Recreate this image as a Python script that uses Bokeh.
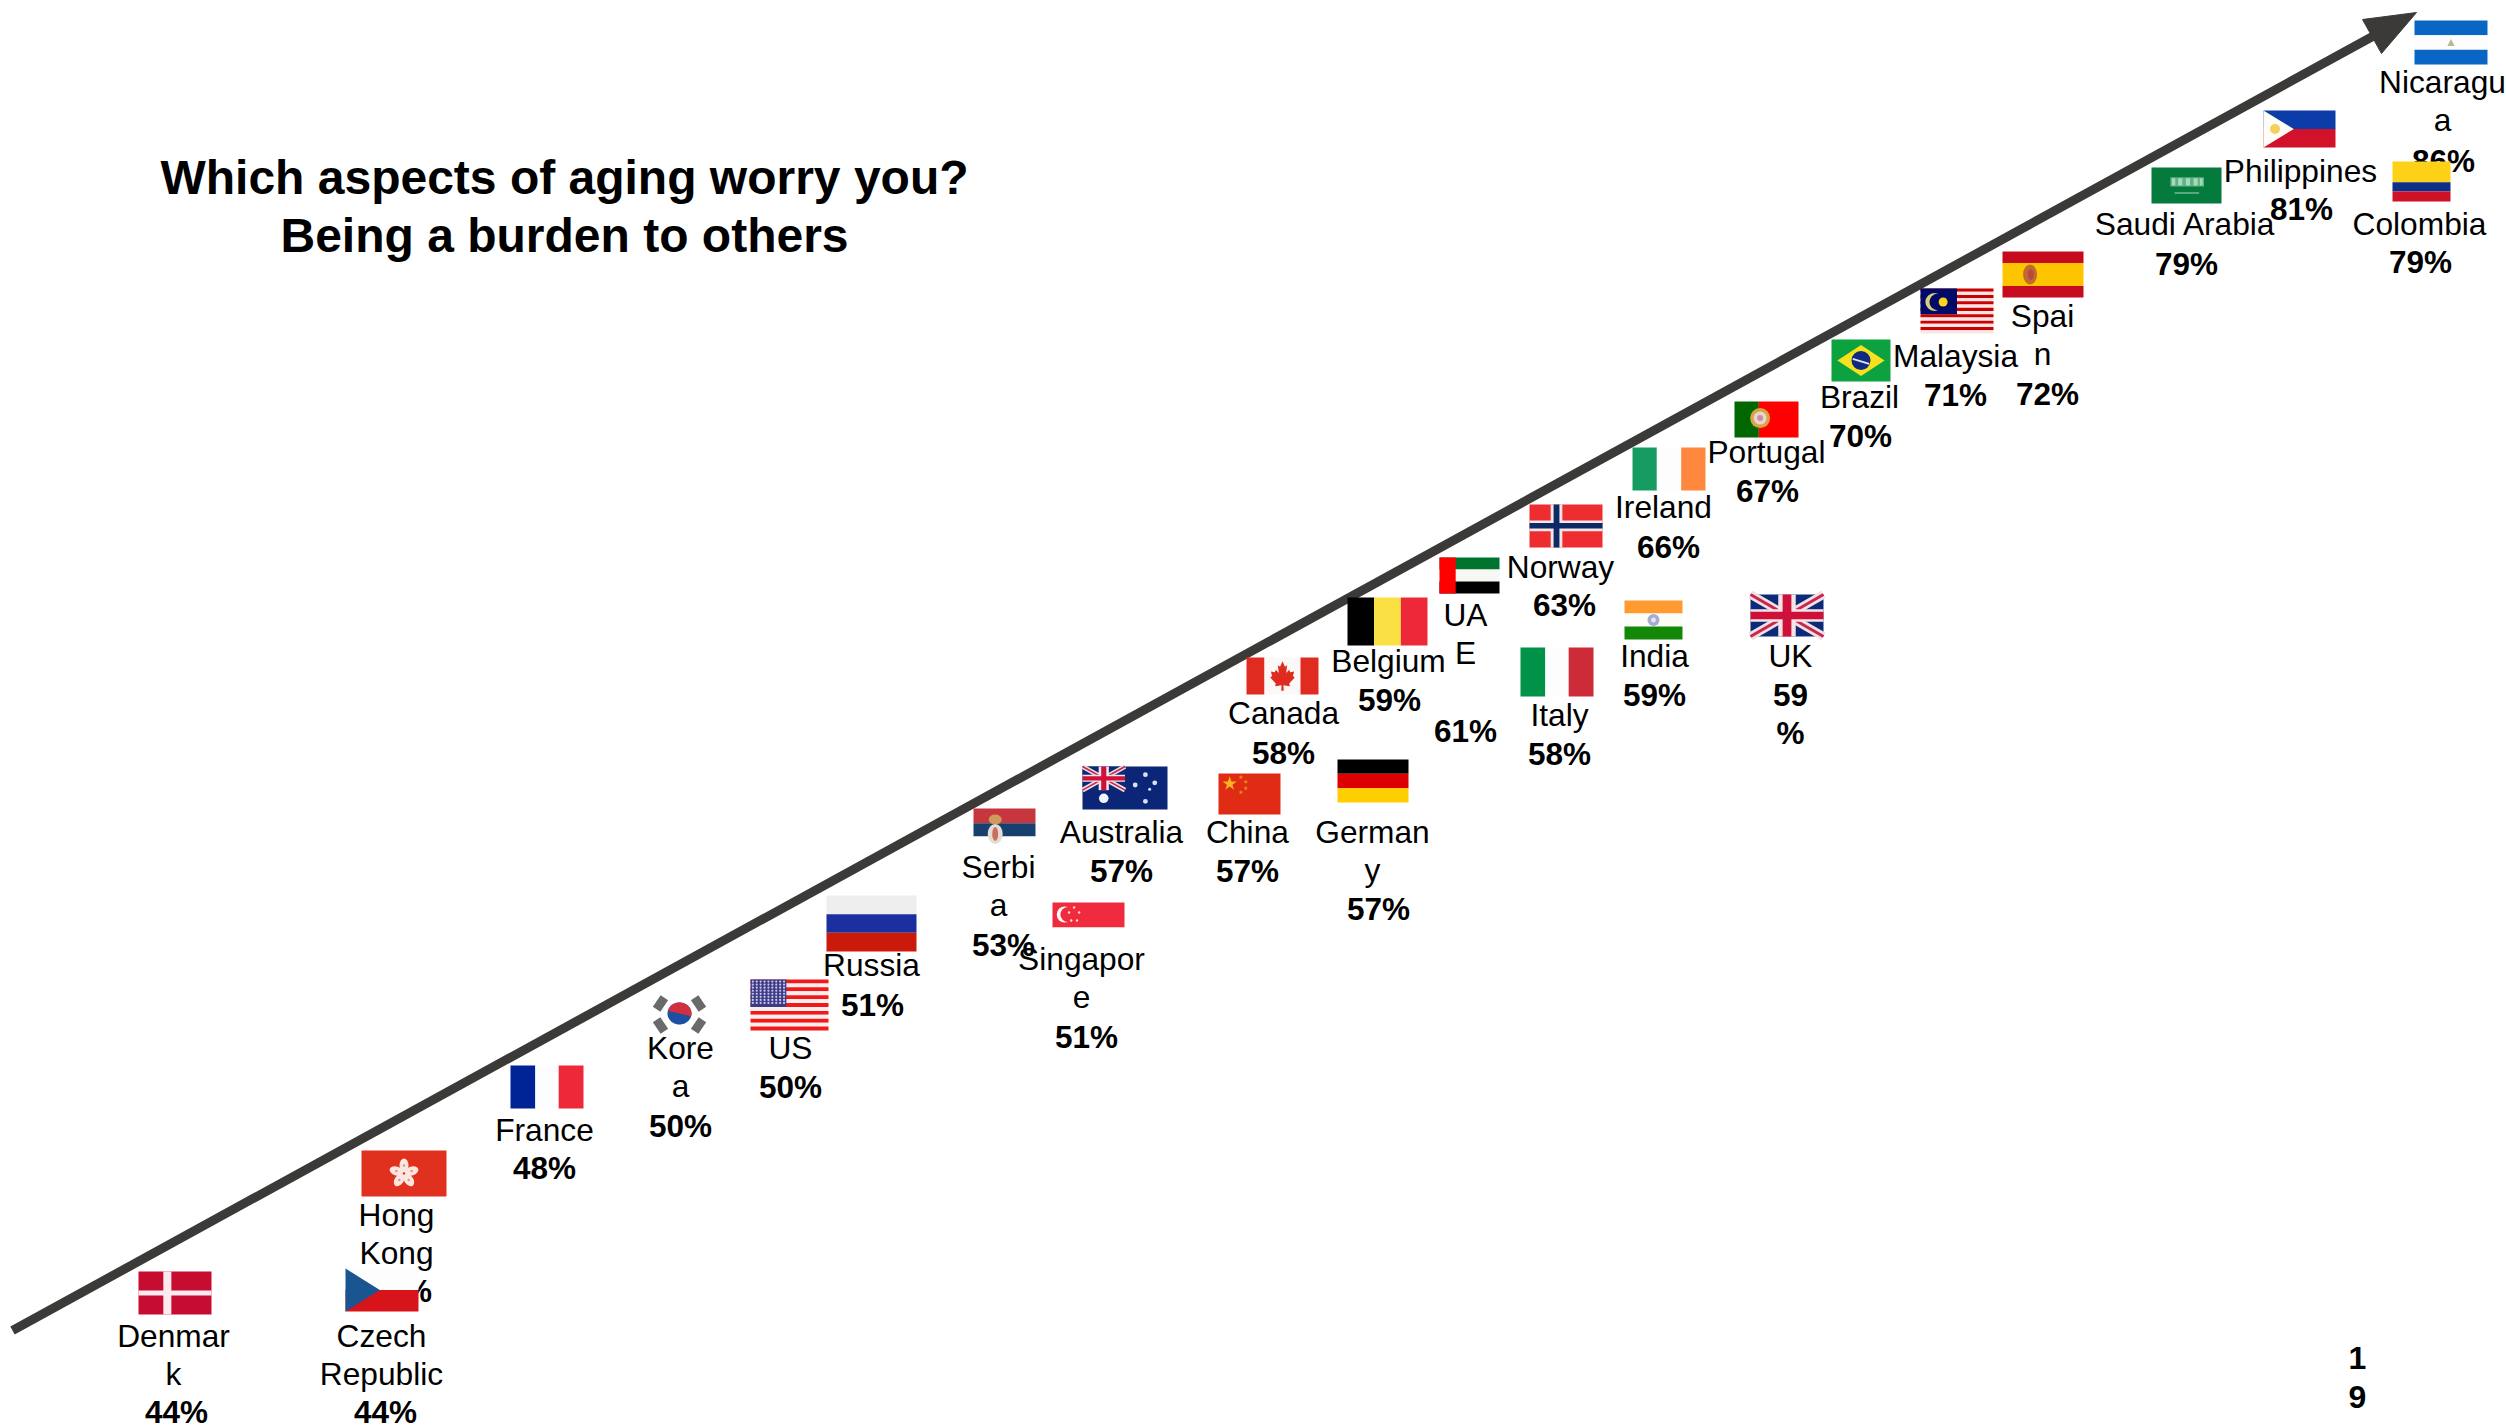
import numpy as np
from bokeh.core.properties import value as fixed
from bokeh.embed import file_html
from bokeh.models import ColumnDataSource, Range1d
from bokeh.plotting import figure
from bokeh.resources import INLINE

# ---- survey answers -------------------------------------------------------
countries = ["Denmark", "Czech Republic", "Hong Kong", "France", "Korea", "US", "Russia",
             "Singapore", "Serbia", "Australia", "China", "Germany", "Canada", "Italy",
             "Belgium", "India", "UK", "UAE", "Norway", "Ireland", "Portugal", "Brazil",
             "Malaysia", "Spain", "Saudi Arabia", "Colombia", "Philippines", "Nicaragua"]
shares = [44, 44, 45, 48, 50, 50, 51, 51, 53, 57, 57, 57, 58, 58,
          59, 59, 59, 61, 63, 66, 67, 70, 71, 72, 79, 79, 81, 86]

# Names that the narrow text boxes break over several lines
name_breaks = {"Denmark": ["Denmar", "k"], "Czech Republic": ["Czech", "Republic"],
               "Hong Kong": ["Hong", "Kong"], "Korea": ["Kore", "a"],
               "Singapore": ["Singapor", "e"], "Serbia": ["Serbi", "a"],
               "Germany": ["German", "y"], "UAE": ["UA", "E"], "Spain": ["Spai", "n"],
               "Nicaragua": ["Nicaragu", "a"]}
share_breaks = {"UK": ["59", "%"]}

title_lines = ["Which aspects of aging worry you?", "Being a burden to others"]
page_digits = ["1", "9"]

# ---- slide layout, in pixels from the top-left corner ---------------------
flag_left = [138, 345, 361, 510, 645, 750, 826, 1052, 973, 1082, 1218, 1337, 1246, 1520,
             1347, 1624, 1750, 1439, 1529, 1632, 1734, 1831, 1920, 2002, 2151, 2392, 2263, 2414]
flag_top = [1271, 1268, 1150, 1065, 993, 979, 895, 902, 808, 766, 773, 759, 657, 647,
            597, 600, 594, 557, 504, 447, 401, 339, 288, 251, 167, 161, 110, 20]
flag_right = [211, 418, 446, 583, 713, 828, 916, 1124, 1035, 1167, 1280, 1408, 1318, 1593,
              1427, 1682, 1823, 1499, 1602, 1705, 1798, 1890, 1993, 2083, 2221, 2450, 2335, 2487]
flag_bottom = [1314, 1311, 1196, 1108, 1033, 1030, 951, 952, 849, 809, 814, 802, 694, 696,
               645, 639, 636, 593, 547, 490, 437, 381, 333, 297, 203, 201, 147, 64]
name_x = [173, 381, 396, 544, 680, 790, 871, 1081, 998, 1121, 1247, 1372, 1283, 1559,
          1388, 1654, 1790, 1465, 1560, 1663, 1766, 1859, 1955, 2042, 2185, 2419, 2300, 2442]
name_y = [1347, 1347, 1226, 1141, 1059, 1059, 976, 970, 878, 843, 843, 843, 724, 726,
          672, 667, 667, 626, 578, 518, 463, 408, 367, 327, 235, 235, 182, 93]
share_x = [176, 385, 400, 544, 680, 790, 872, 1086, 1003, 1121, 1247, 1378, 1283, 1559,
           1389, 1654, 1790, 1465, 1564, 1668, 1767, 1860, 1955, 2047, 2186, 2420, 2301, 2443]
share_y = [1423, 1423, 1302, 1179, 1137, 1098, 1016, 1048, 956, 882, 882, 920, 764, 765,
           711, 706, 706, 742, 616, 558, 502, 447, 406, 405, 275, 273, 220, 172]

LINE_STEP = 38.6
LABEL_FONT = fixed("Liberation Sans")
ARROW_COLOR = "#3b3a38"
BASELINE_SHIFT = -0.37  # lifts the SVG text onto its baseline, in font sizes

p = figure(width=2506, height=1425, output_backend="svg", toolbar_location=None,
           x_range=Range1d(0, 2506), y_range=Range1d(1425, 0), min_border=0,
           x_axis_type=None, y_axis_type=None, outline_line_color=None,
           background_fill_color="white", border_fill_color="white")
p.grid.visible = False


def add_text(xs, ys, texts, size, style):
    src = ColumnDataSource(dict(x=xs, y=ys, t=texts))
    p.text("x", "y", text="t", source=src, text_font=LABEL_FONT, text_font_size=f"{size}px",
           text_font_style=style, text_align="center", text_baseline="alphabetic",
           text_color="black", y_offset=BASELINE_SHIFT * size)


# ---- texts sit beneath the flags, which overlap a few of them -------------
nx, ny, nt, vx, vy, vt = [], [], [], [], [], []
for i, country in enumerate(countries):
    for k, line in enumerate(name_breaks.get(country, [country])):
        nx.append(name_x[i]); ny.append(name_y[i] + k * LINE_STEP); nt.append(line)
    for k, line in enumerate(share_breaks.get(country, [f"{shares[i]}%"])):
        vx.append(share_x[i]); vy.append(share_y[i] + k * LINE_STEP); vt.append(line)
add_text(nx, ny, nt, 31.7, "normal")
add_text(vx, vy, vt, 31.5, "bold")
add_text([564, 564], [195, 253], title_lines, 48, "bold")
add_text([2357, 2357], [1369, 1408], page_digits, 32, "bold")

# ---- rising arrow ---------------------------------------------------------
p.line([12, 2372], [1330, 36], line_color=ARROW_COLOR, line_width=9, line_cap="butt")
p.patch([2416, 2362, 2381], [12, 19, 53], fill_color=ARROW_COLOR, line_color=ARROW_COLOR)


# ---- flags ----------------------------------------------------------------
class Flag:
    """Draws shapes inside a flag box, given in fractions of its width and height."""

    def __init__(self, left, top, right, bottom):
        self.l, self.t, self.w, self.h = left, top, right - left, bottom - top

    def X(self, u):
        return self.l + self.w * u

    def Y(self, v):
        return self.t + self.h * v

    def band(self, u0, v0, u1, v1, color):
        p.quad(left=self.X(u0), right=self.X(u1), top=self.Y(v0), bottom=self.Y(v1),
               fill_color=color, line_color=None)

    def rows(self, colors, stops=None):
        stops = stops or np.linspace(0, 1, len(colors) + 1)
        for c, a, b in zip(colors, stops[:-1], stops[1:]):
            self.band(0, a, 1, b, c)

    def cols(self, colors, stops=None):
        stops = stops or np.linspace(0, 1, len(colors) + 1)
        for c, a, b in zip(colors, stops[:-1], stops[1:]):
            self.band(a, 0, b, 1, c)

    def poly(self, pts, color):
        p.patch([self.X(a) for a, _ in pts], [self.Y(b) for _, b in pts],
                fill_color=color, line_color=None)

    def dot(self, u, v, radius, color, alpha=1.0):
        p.circle(x=self.X(u), y=self.Y(v), radius=radius, fill_color=color,
                 fill_alpha=alpha, line_color=None)

    def oval(self, u, v, w, h, color, angle=0.0):
        p.ellipse(x=self.X(u), y=self.Y(v), width=w, height=h, angle=angle,
                  fill_color=color, line_color=None)

    def star(self, u, v, size, color):
        p.scatter(x=[self.X(u)], y=[self.Y(v)], marker="star", size=size,
                  fill_color=color, line_color=None)

    def tilted(self, u, v, w, h, angle, color):
        p.rect(x=self.X(u), y=self.Y(v), width=w, height=h, angle=angle,
               fill_color=color, line_color=None)

    def sub(self, u0, v0, u1, v1):
        return Flag(self.X(u0), self.Y(v0), self.X(u1), self.Y(v1))


def union_jack(f):
    f.band(0, 0, 1, 1, "#0b2a78")
    for a, b, c, d in ((0, 0, 1, 1), (0, 1, 1, 0)):
        p.line([f.X(a), f.X(c)], [f.Y(b), f.Y(d)], line_color="#f0dfe4",
               line_width=f.h * 0.2)
        p.line([f.X(a), f.X(c)], [f.Y(b), f.Y(d)], line_color="#c8264a",
               line_width=f.h * 0.07)
    f.band(0.38, 0, 0.62, 1, "#f2e4e8")
    f.band(0, 0.35, 1, 0.65, "#f2e4e8")
    f.band(0.44, 0, 0.56, 1, "#cf1038")
    f.band(0, 0.41, 1, 0.59, "#cf1038")


def denmark(f):
    f.band(0, 0, 1, 1, "#c60c30")
    f.band(0.34, 0, 0.45, 1, "#fbeaf0")
    f.band(0, 0.44, 1, 0.56, "#fbeaf0")


def czech(f):
    f.rows(["#fdfdfd", "#d7141a"])
    f.poly([(0, 0), (0.47, 0.5), (0, 1)], "#1a5591")


def hong_kong(f):
    f.band(0, 0, 1, 1, "#e0301e")
    for k in range(5):
        a = np.pi / 2 + k * 2 * np.pi / 5
        f.oval(0.5 + 8 * np.cos(a) / f.w, 0.5 - 8 * np.sin(a) / f.h, 14, 9, "#fbe6e0", a)
        f.dot(0.5 + 8 * np.cos(a) / f.w, 0.5 - 8 * np.sin(a) / f.h, 1.2, "#e8907c")


def france(f):
    f.cols(["#002395", "#fdfdff", "#ed2939"], [0, 0.34, 0.66, 1])


def korea(f):
    cx, cy = f.X(0.5), f.Y(0.5)
    t = np.linspace(0, 2 * np.pi, 60)
    p.patch(cx + 12 * np.cos(t), cy + 11 * np.sin(t), fill_color="#1d4fa3", line_color=None)
    t = np.linspace(np.radians(195), np.radians(375), 40)
    p.patch(cx + 12 * np.cos(t), cy + 11 * np.sin(t), fill_color="#d2303e", line_color=None)
    for u, v, a in ((0.22, 0.25, 0.98), (0.78, 0.25, -0.98), (0.22, 0.8, -0.98), (0.78, 0.8, 0.98)):
        f.tilted(u, v, 14, 9, a, "#6a6a6a")


def usa(f):
    f.rows(["#f01a1a" if k % 2 == 0 else "#fdeeee" for k in range(13)])
    f.band(0, 0, 0.46, 7 / 13, "#3d3b86")
    us = [0.03 + 0.05 * k for k in range(9)]
    vs = [0.04 + 0.06 * k for k in range(8)]
    p.scatter(x=[f.X(u) for u in us for _ in vs], y=[f.Y(v) for _ in us for v in vs],
              marker="circle", size=2.2, fill_color="#c9c8e8", line_color=None)


def russia(f):
    f.rows(["#eeeeee", "#1c2f9e", "#cc1a0a"])


def singapore(f):
    f.rows(["#ef2b3d", "#ffffff"])
    f.dot(0.17, 0.24, 8, "#ffffff")
    f.dot(0.215, 0.24, 7.6, "#ef2b3d")
    for u, v in ((0.3, 0.1), (0.37, 0.2), (0.34, 0.36), (0.26, 0.36), (0.23, 0.2)):
        f.dot(u, v, 1.2, "#fbdcdc")


def serbia(f):
    f.rows(["#c6363c", "#17406f", "#ffffff"], [0, 0.36, 0.68, 1])
    f.oval(0.35, 0.27, 13, 10, "#cf9a5a")
    f.oval(0.35, 0.62, 15, 20, "#e6dcd6")
    f.oval(0.35, 0.62, 6, 14, "#c9705e")


def australia(f):
    f.band(0, 0, 1, 1, "#0b2577")
    union_jack(f.sub(0, 0, 0.5, 0.55))
    f.dot(0.25, 0.74, 4.8, "#f0f4ff")
    for u, v, r in ((0.74, 0.19, 2.4), (0.62, 0.43, 2.4), (0.85, 0.38, 2.4), (0.79, 0.53, 1.5), (0.74, 0.81, 2.4)):
        f.dot(u, v, r, "#d9e2f8")


def china(f):
    f.band(0, 0, 1, 1, "#e02c14")
    f.star(0.18, 0.25, 15, "#f7b51e")
    for u, v in ((0.36, 0.09), (0.44, 0.2), (0.44, 0.36), (0.36, 0.46)):
        f.star(u, v, 5, "#ee8a1c")


def germany(f):
    f.rows(["#000000", "#dd0000", "#ffce00"])


def canada(f):
    f.cols(["#e02b20", "#fbf8f7", "#e02b20"], [0, 0.25, 0.75, 1])
    leaf = [(0, -1), (0.2, -0.62), (0.38, -0.72), (0.3, -0.2), (0.55, -0.42), (0.62, -0.25),
            (0.95, -0.3), (0.85, 0), (1, 0.1), (0.55, 0.5), (0.6, 0.7), (0.08, 0.62), (0.1, 1),
            (-0.1, 1), (-0.08, 0.62), (-0.6, 0.7), (-0.55, 0.5), (-1, 0.1), (-0.85, 0),
            (-0.95, -0.3), (-0.62, -0.25), (-0.55, -0.42), (-0.3, -0.2), (-0.38, -0.72), (-0.2, -0.62)]
    f.poly([(0.5 + a * 0.17, 0.5 + b * 0.4) for a, b in leaf], "#e02b20")


def italy(f):
    f.cols(["#009246", "#fdfdfd", "#cd2b37"], [0, 0.34, 0.66, 1])


def belgium(f):
    f.cols(["#000000", "#fae042", "#ed2939"])


def india(f):
    f.rows(["#ff9a30", "#fdfdf8", "#138808"])
    f.dot(0.5, 0.5, 6, "#a8aad4")
    f.dot(0.5, 0.5, 2.4, "#e8e8f4")


def uk(f):
    union_jack(f)


def uae(f):
    f.rows(["#00732f", "#f6f8f4", "#000000"])
    f.band(0, 0, 0.27, 1, "#ff0000")


def norway(f):
    f.band(0, 0, 1, 1, "#ee2d30")
    f.band(0.29, 0, 0.45, 1, "#f4e6e6")
    f.band(0, 0.37, 1, 0.62, "#f4e6e6")
    f.band(0.33, 0, 0.41, 1, "#0e2a66")
    f.band(0, 0.43, 1, 0.56, "#0e2a66")


def ireland(f):
    f.cols(["#169b62", "#fdfdfd", "#ff883e"])


def portugal(f):
    f.band(0, 0, 0.38, 1, "#006600")
    f.band(0.38, 0, 1, 1, "#ff0000")
    f.dot(0.4, 0.46, 10, "#d9a441")
    f.dot(0.4, 0.46, 6.5, "#e8d4d4")
    f.dot(0.4, 0.46, 3, "#c98f9c")


def brazil(f):
    f.band(0, 0, 1, 1, "#0ca23f")
    f.poly([(0.1, 0.5), (0.5, 0.13), (0.9, 0.5), (0.5, 0.87)], "#f5e11e")
    f.dot(0.5, 0.5, 9.5, "#0f2a80")
    p.line([f.X(0.36), f.X(0.64)], [f.Y(0.46), f.Y(0.58)], line_color="#dfe6ef", line_width=1.8)


def malaysia(f):
    f.rows(["#cc0001" if k % 2 == 0 else "#fbe6e6" for k in range(14)])
    f.band(0, 0, 0.5, 8 / 14, "#010a66")
    f.dot(0.19, 0.3, 9, "#d7cf7c")
    f.dot(0.235, 0.3, 8.2, "#010a66")
    f.dot(0.31, 0.3, 4.5, "#ffd21e")


def spain(f):
    f.rows(["#c60b1e", "#ffc400", "#c60b1e"], [0, 0.25, 0.75, 1])
    f.oval(0.34, 0.5, 14, 20, "#c06a32")
    f.oval(0.35, 0.5, 6, 11, "#b84a3a")


def saudi(f):
    f.band(0, 0, 1, 1, "#047a3c")
    f.band(0.27, 0.27, 0.75, 0.53, "#5fb283")
    for u0, u1 in ((0.29, 0.34), (0.38, 0.44), (0.49, 0.55), (0.6, 0.66), (0.69, 0.73)):
        f.band(u0, 0.3, u1, 0.5, "#a6d8bb")
    f.band(0.33, 0.69, 0.68, 0.73, "#6fbb8e")


def colombia(f):
    f.rows(["#fcd116", "#0e2f86", "#ce1126"], [0, 0.52, 0.75, 1])


def philippines(f):
    f.rows(["#0c3ca8", "#d2112b"])
    f.poly([(0, 0), (0.42, 0.5), (0, 1)], "#fdfdf6")
    f.dot(0.16, 0.5, 5, "#f6cf5c")


def nicaragua(f):
    f.rows(["#0a66c4", "#fdfdfd", "#0a66c4"])
    f.poly([(0.45, 0.58), (0.5, 0.42), (0.55, 0.58)], "#b9b98e")


painters = {"Denmark": denmark, "Czech Republic": czech, "Hong Kong": hong_kong, "France": france,
            "Korea": korea, "US": usa, "Russia": russia, "Singapore": singapore, "Serbia": serbia,
            "Australia": australia, "China": china, "Germany": germany, "Canada": canada,
            "Italy": italy, "Belgium": belgium, "India": india, "UK": uk, "UAE": uae,
            "Norway": norway, "Ireland": ireland, "Portugal": portugal, "Brazil": brazil,
            "Malaysia": malaysia, "Spain": spain, "Saudi Arabia": saudi, "Colombia": colombia,
            "Philippines": philippines, "Nicaragua": nicaragua}

for i, country in enumerate(countries):
    painters[country](Flag(flag_left[i], flag_top[i], flag_right[i], flag_bottom[i]))

open("out.html", "w").write(file_html(p, INLINE))
